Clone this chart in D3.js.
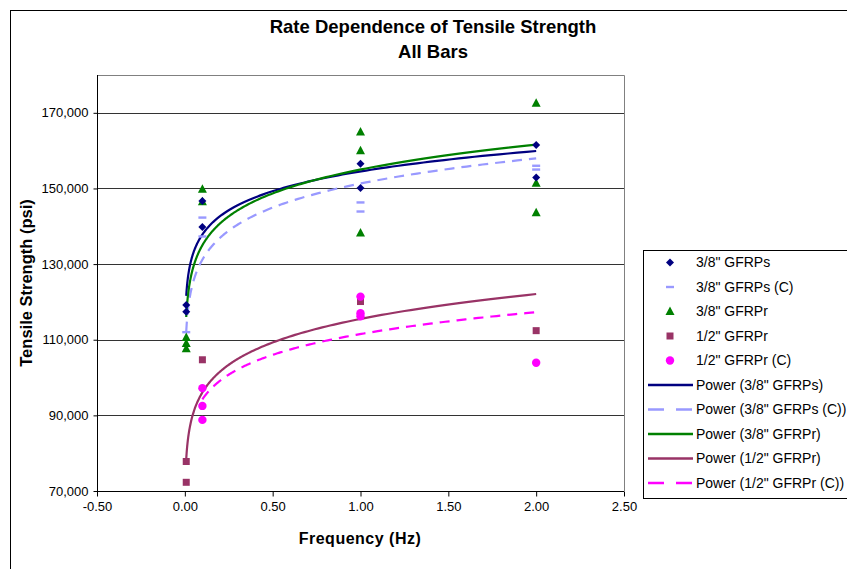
<!DOCTYPE html>
<html>
<head>
<meta charset="utf-8">
<title>Rate Dependence of Tensile Strength</title>
<script src="https://d3js.org/d3.v7.min.js"></script>
<style>
  body { margin: 0; background: #fff; }
  svg { font-family: "Liberation Sans", Arial, sans-serif; }
  .tick text { font-size: 13px; fill: #000; }
  .legend-text { font-size: 14px; fill: #000; }
</style>
</head>
<body>
<div id="chart"></div>
<script>
// x = frequency (Hz), y = tensile strength (psi); "0.00" points are a small quasi-static rate
const gfrps38 = [[0.008,119200],[0.008,117400],[0.1,146700],[0.1,139800],[1,156500],[1,150100],[2,161500],[2,152900]];
const gfrps38C = [[0.008,112000],[0.1,142300],[0.1,137300],[1,146300],[1,143900],[2,156000],[2,155000]];
const gfrpr38 = [[0.008,110600],[0.008,109000],[0.008,107600],[0.1,149800],[0.1,146500],[1,164900],[1,160000],[1,138200],[2,172500],[2,151400],[2,143600]];
const gfrpr12 = [[0.008,77800],[0.008,72300],[0.1,104700],[1,120100],[2,112400]];
const gfrpr12C = [[0.1,97200],[0.1,92500],[0.1,88800],[1,121400],[1,117000],[1,116200],[2,103900]];

// power trendline fits y = a * x^b
const trendA = [154500, 151300, 155000, 115500, 111500];
const trendB = [0.0496, 0.062, 0.060, 0.080, 0.073];

const xTicks = [-0.5, 0, 0.5, 1, 1.5, 2, 2.5];
const yTicks = [70000, 90000, 110000, 130000, 150000, 170000];
const gridValues = [90000, 110000, 130000, 150000, 170000];

const width = 847, height = 569;
const plot = { left: 97, right: 624, top: 75, bottom: 491 };

const svg = d3.select("#chart").append("svg")
  .attr("width", width)
  .attr("height", height);

// chart area border
svg.append("rect")
  .attr("x", 10.5).attr("y", 10.5)
  .attr("width", 860).attr("height", 600)
  .attr("fill", "#fff").attr("stroke", "#000");

const x = d3.scaleLinear().domain([-0.5, 2.5]).range([plot.left, plot.right]);
const y = d3.scaleLinear().domain([70000, 180000]).range([plot.bottom, plot.top]);

// plot area frame (top and right, grey)
svg.append("path")
  .attr("d", `M${plot.left},${plot.top + 0.5}H${plot.right + 0.5}V${plot.bottom}`)
  .attr("fill", "none").attr("stroke", "#808080");

// gridlines
svg.append("g").selectAll("line")
  .data(gridValues).enter().append("line")
  .attr("x1", plot.left).attr("x2", plot.right)
  .attr("y1", d => Math.round(y(d)) + 0.5).attr("y2", d => Math.round(y(d)) + 0.5)
  .attr("stroke", "#333");

// axes
const xAxis = svg.append("g")
  .attr("transform", `translate(0,${plot.bottom + 0.5})`)
  .call(d3.axisBottom(x).tickValues(xTicks).tickFormat(d => d.toFixed(2)).tickSizeOuter(0).tickSize(5).tickPadding(5));
const yAxis = svg.append("g")
  .attr("transform", `translate(${plot.left + 0.5},0)`)
  .call(d3.axisLeft(y).tickValues(yTicks).tickFormat(d3.format(",")).tickSizeOuter(0).tickSize(4).tickPadding(5));
[xAxis, yAxis].forEach(a => {
  a.select(".domain").attr("stroke", "#000");
  a.selectAll(".tick line").attr("stroke", "#000");
  a.selectAll("text").attr("font-family", null);
});
xAxis.select(".domain").attr("d", `M${plot.left},0H${plot.right}`);
yAxis.select(".domain").attr("d", `M0,${plot.top}V${plot.bottom}`);

// trendlines
const trends = [
  { data: gfrps38, color: "#000080", dash: null },
  { data: gfrps38C, color: "#9999FF", dash: "10,7" },
  { data: gfrpr38, color: "#008000", dash: null },
  { data: gfrpr12, color: "#993366", dash: null },
  { data: gfrpr12C, color: "#FF00FF", dash: "10,7" }
];
const line = d3.line().x(d => x(d[0])).y(d => y(d[1]));
trends.forEach((t, i) => {
  const ext = d3.extent(t.data, d => d[0]);
  const l0 = Math.log(ext[0]), l1 = Math.log(ext[1]);
  const pts = d3.range(0, 201).map(k => {
    const xv = Math.exp(l0 + (l1 - l0) * k / 200);
    return [xv, trendA[i] * Math.pow(xv, trendB[i])];
  });
  svg.append("path")
    .attr("d", line(pts))
    .attr("fill", "none")
    .attr("stroke", t.color)
    .attr("stroke-width", 2.2)
    .attr("stroke-dasharray", t.dash);
});

// marker shapes
function drawMarker(g, kind, cx, cy) {
  if (kind === "diamond") {
    g.append("path").attr("d", `M${cx},${cy-4}L${cx+4},${cy}L${cx},${cy+4}L${cx-4},${cy}Z`).attr("fill", "#000080");
  } else if (kind === "dash") {
    g.append("rect").attr("x", cx - 4).attr("y", cy - 1.2).attr("width", 8).attr("height", 2.4).attr("fill", "#9999FF");
  } else if (kind === "triangle") {
    g.append("path").attr("d", `M${cx},${cy-5}L${cx+4.5},${cy+3.5}L${cx-4.5},${cy+3.5}Z`).attr("fill", "#008000");
  } else if (kind === "square") {
    g.append("rect").attr("x", cx - 3.5).attr("y", cy - 3.5).attr("width", 7).attr("height", 7).attr("fill", "#993366");
  } else if (kind === "circle") {
    g.append("circle").attr("cx", cx).attr("cy", cy).attr("r", 4.2).attr("fill", "#FF00FF");
  }
}

const seriesMarks = [
  { data: gfrps38C, kind: "dash" },
  { data: gfrpr12, kind: "square" },
  { data: gfrpr12C, kind: "circle" },
  { data: gfrpr38, kind: "triangle" },
  { data: gfrps38, kind: "diamond" }
];
const marks = svg.append("g");
seriesMarks.forEach(s => {
  s.data.forEach(d => drawMarker(marks, s.kind, x(d[0]), y(d[1])));
});

// titles
svg.append("text").attr("x", 433).attr("y", 33)
  .attr("text-anchor", "middle").attr("font-weight", "bold").attr("font-size", "18.5px")
  .text("Rate Dependence of Tensile Strength");
svg.append("text").attr("x", 433).attr("y", 58)
  .attr("text-anchor", "middle").attr("font-weight", "bold").attr("font-size", "18.5px")
  .text("All Bars");
svg.append("text").attr("x", 360).attr("y", 544)
  .attr("text-anchor", "middle").attr("font-weight", "bold").attr("font-size", "16px")
  .attr("letter-spacing", "0.5px")
  .text("Frequency (Hz)");
svg.append("text").attr("transform", "translate(32,283) rotate(-90)")
  .attr("text-anchor", "middle").attr("font-weight", "bold").attr("font-size", "16.5px")
  .text("Tensile Strength (psi)");

// legend
const legendLabels = ["3/8\" GFRPs", "3/8\" GFRPs (C)", "3/8\" GFRPr", "1/2\" GFRPr", "1/2\" GFRPr (C)",
  "Power (3/8\" GFRPs)", "Power (3/8\" GFRPs (C))", "Power (3/8\" GFRPr)", "Power (1/2\" GFRPr)", "Power (1/2\" GFRPr (C))"];
const legendKinds = ["diamond", "dash", "triangle", "square", "circle"];
const legendColors = ["#000080", "#9999FF", "#008000", "#993366", "#FF00FF"];
const legend = svg.append("g");
legend.append("rect")
  .attr("x", 643.5).attr("y", 250.5).attr("width", 220).attr("height", 248)
  .attr("fill", "#fff").attr("stroke", "#000");
legendLabels.forEach((lab, i) => {
  const cy = 262.5 + i * 24.5;
  if (i < 5) {
    drawMarker(legend, legendKinds[i], 670, cy);
  } else {
    legend.append("line")
      .attr("x1", 648).attr("x2", 693).attr("y1", cy).attr("y2", cy)
      .attr("stroke", legendColors[i - 5]).attr("stroke-width", 2.5)
      .attr("stroke-dasharray", (i === 6 || i === 9) ? "16,12" : null);
  }
  legend.append("text").attr("class", "legend-text")
    .attr("x", 696).attr("y", cy).attr("dy", "0.35em")
    .text(lab);
});
</script>
</body>
</html>
